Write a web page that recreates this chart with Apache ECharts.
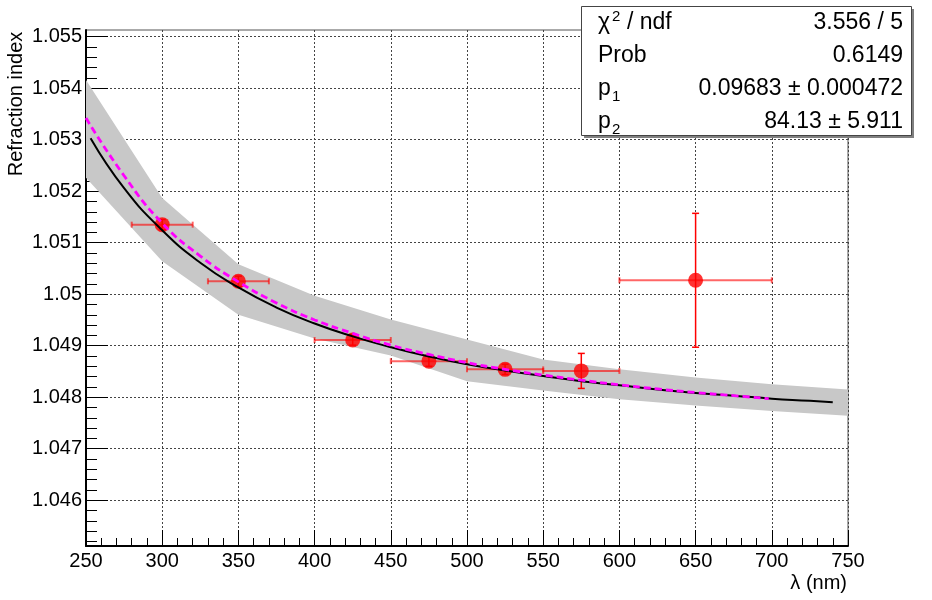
<!DOCTYPE html>
<html>
<head>
<meta charset="utf-8">
<script src="https://cdn.jsdelivr.net/npm/echarts@6.0.0/dist/echarts.min.js"></script>
<style>
html,body{margin:0;padding:0;background:#fff;}
#chart{width:932px;height:600px;}
</style>
</head>
<body>
<div id="chart"></div>
<script>
// ---- measured data points (wavelength in nm, refraction index) ----
const wavelength    = [300, 350, 425, 475, 525, 575, 650];
const wavelengthErr = [20, 20, 25, 25, 25, 25, 50];
const refIndex      = [1.05135, 1.05025, 1.04911, 1.04870, 1.04854, 1.04851, 1.05027];
const refIndexErr   = [0.0001, 0.0001, 0.0001, 0.0001, 0.0001, 0.00034, 0.0013];

// ---- fitted curve (black, solid) ----
const fitX = [253, 275, 300, 325, 350, 375, 400, 425, 450, 475, 500, 525, 550, 575, 600, 625, 650, 675, 700, 725, 740];
const fitY = [1.05303, 1.05206, 1.05124, 1.05061, 1.05013, 1.04974, 1.04943, 1.04918, 1.04897, 1.04879, 1.04864,
              1.04852, 1.04841, 1.04831, 1.04823, 1.04815, 1.04808, 1.04803, 1.04797, 1.04793, 1.04790];

// ---- second curve (magenta, dashed) ----
const altX = [250, 275, 300, 325, 350, 375, 400, 425, 450, 475, 500, 525, 550, 575, 600, 625, 650, 675, 698];
const altY = [1.05342, 1.05230, 1.05138, 1.05074, 1.05024, 1.04983, 1.04950, 1.04924, 1.04901, 1.04883, 1.04867,
              1.04854, 1.04843, 1.04833, 1.04824, 1.04816, 1.04809, 1.04803, 1.04797];

// ---- grey confidence band ----
const bandX     = [250, 300, 350, 400, 450, 500, 550, 600, 650, 700, 750];
const bandUpper = [1.05416, 1.05187, 1.05058, 1.04997, 1.04951, 1.04912, 1.04873, 1.04854, 1.04838, 1.04825, 1.04815];
const bandLower = [1.05226, 1.05064, 1.04960, 1.04914, 1.04881, 1.04831, 1.04813, 1.04796, 1.04784, 1.04773, 1.04764];

// ---- axes ----
const xRange = [250, 750];
const yRange = [1.04511, 1.05513];
const yMajorTicks = [1.046, 1.047, 1.048, 1.049, 1.05, 1.051, 1.052, 1.053, 1.054, 1.055];
const yMinorStep = 0.0002;

// ---- fit statistics box ----
const statLabels = ['χ', 'Prob', 'p', 'p'];
const statSubs   = ['2', '', '1', '2'];
const statRest   = ['/ ndf', '', '', ''];
const statValues = ['3.556 / 5', '0.6149', '0.09683 ± 0.000472', '84.13 ± 5.911'];

const FONT = '"Liberation Sans", Arial, Helvetica, sans-serif';

// minor y ticks (axis decoration only)
const yMinorTicks = [];
for (let k = 1; k * yMinorStep + 1.045 < yRange[1]; k++) {
  const v = +(1.045 + k * yMinorStep).toFixed(5);
  if (v > yRange[0] && Math.round(v * 10000) % 10 !== 0) yMinorTicks.push(v);
}

const pointData = wavelength.map((w, i) => [w, refIndex[i], wavelengthErr[i], refIndexErr[i]]);
const bandData = bandX.map((x, i) => [x, bandLower[i], bandUpper[i]]);

const chart = echarts.init(document.getElementById('chart'), null, {renderer: 'canvas'});

const rowY = [22.5, 55.5, 88.5, 121.5];
const statGraphics = [
  {type: 'rect', z: 100, shape: {x: 584, y: 9, width: 330, height: 129}, style: {fill: '#808080'}},
  {type: 'rect', z: 101, shape: {x: 581.5, y: 6.5, width: 330, height: 129}, style: {fill: '#fff', stroke: '#444', lineWidth: 1}}
];
statLabels.forEach((lab, i) => {
  statGraphics.push({type: 'text', z: 102, x: 598, y: rowY[i],
    style: {text: lab, font: '23px ' + FONT, fill: '#000', textAlign: 'left', textVerticalAlign: 'middle'}});
  if (statSubs[i]) {
    const sup = i === 0;
    statGraphics.push({type: 'text', z: 102, x: 612, y: sup ? rowY[i] - 6 : rowY[i] + 8,
      style: {text: statSubs[i], font: '15px ' + FONT, fill: '#000', textAlign: 'left', textVerticalAlign: 'middle'}});
  }
  if (statRest[i]) {
    statGraphics.push({type: 'text', z: 102, x: 627, y: rowY[i],
      style: {text: statRest[i], font: '23px ' + FONT, fill: '#000', textAlign: 'left', textVerticalAlign: 'middle'}});
  }
  statGraphics.push({type: 'text', z: 102, x: 903, y: rowY[i],
    style: {text: statValues[i], font: '23px ' + FONT, fill: '#000', textAlign: 'right', textVerticalAlign: 'middle'}});
});

const option = {
  animation: false,
  backgroundColor: '#fff',
  grid: {left: 86, right: 84, top: 30, bottom: 54, show: true, borderColor: '#555', borderWidth: 1, backgroundColor: 'transparent'},
  xAxis: {
    type: 'value', min: xRange[0], max: xRange[1], interval: 50,
    axisLine: {show: true, onZero: false, lineStyle: {color: '#000', width: 2}},
    axisTick: {show: true, inside: true, length: 16, lineStyle: {color: '#000', width: 1}},
    minorTick: {show: true, splitNumber: 5, length: 8, lineStyle: {color: '#000', width: 1}},
    axisLabel: {show: true, margin: 5, fontFamily: FONT, fontSize: 20, color: '#000'},
    splitLine: {show: true, lineStyle: {color: '#444', width: 1, type: [2, 2]}}
  },
  yAxis: [
    {
      type: 'value', min: yRange[0], max: yRange[1],
      axisLine: {show: true, onZero: false, lineStyle: {color: '#000', width: 2}},
      axisTick: {show: true, inside: true, length: 22, customValues: yMajorTicks, lineStyle: {color: '#000', width: 1}},
      axisLabel: {show: true, margin: 4, customValues: yMajorTicks, fontFamily: FONT, fontSize: 20, color: '#000',
        formatter: v => String(+(+v).toFixed(4))},
      splitLine: {show: true, lineStyle: {color: '#444', width: 1, type: [2, 2]}}
    },
    {
      type: 'value', min: yRange[0], max: yRange[1], position: 'left',
      axisLine: {show: false},
      axisTick: {show: true, inside: true, length: 11, customValues: yMinorTicks, lineStyle: {color: '#000', width: 1}},
      axisLabel: {show: false},
      splitLine: {show: false}
    }
  ],
  graphic: [
    {type: 'text', x: 16, y: 104, rotation: Math.PI / 2, z: 50,
      style: {text: 'Refraction index', font: '20px ' + FONT, fill: '#000', textAlign: 'center', textVerticalAlign: 'middle'}},
    {type: 'text', x: 847, y: 583, z: 50,
      style: {text: 'λ (nm)', font: '20px ' + FONT, fill: '#000', textAlign: 'right', textVerticalAlign: 'middle'}}
  ].concat(statGraphics),
  series: [
    {
      name: 'band', type: 'custom', z: 1, silent: true, data: bandData,
      encode: {x: 0, y: [1, 2]},
      renderItem: function (params, api) {
        if (params.dataIndex !== 0) return null;
        const pts = [];
        for (let i = 0; i < bandX.length; i++) pts.push(api.coord([bandX[i], bandUpper[i]]));
        for (let i = bandX.length - 1; i >= 0; i--) pts.push(api.coord([bandX[i], bandLower[i]]));
        return {type: 'polygon', shape: {points: pts}, style: {fill: '#c8c8c8', stroke: 'none'}};
      }
    },
    {
      name: 'errors', type: 'custom', z: 2, silent: true, data: pointData,
      encode: {x: 0, y: 1},
      renderItem: function (params, api) {
        const x = api.value(0), y = api.value(1), ex = api.value(2), ey = api.value(3);
        const pl = api.coord([x - ex, y]), pr = api.coord([x + ex, y]);
        const pt = api.coord([x, y + ey]), pb = api.coord([x, y - ey]);
        const hs = {stroke: 'rgba(255,0,0,0.6)', lineWidth: 2};
        const vs = {stroke: '#ff0000', lineWidth: 1.5};
        return {type: 'group', children: [
          {type: 'line', shape: {x1: pl[0], y1: pl[1], x2: pr[0], y2: pr[1]}, style: hs},
          {type: 'line', shape: {x1: pl[0], y1: pl[1] - 3, x2: pl[0], y2: pl[1] + 3}, style: hs},
          {type: 'line', shape: {x1: pr[0], y1: pr[1] - 3, x2: pr[0], y2: pr[1] + 3}, style: hs},
          {type: 'line', shape: {x1: pt[0], y1: pt[1], x2: pb[0], y2: pb[1]}, style: vs},
          {type: 'line', shape: {x1: pt[0] - 3.5, y1: pt[1], x2: pt[0] + 3.5, y2: pt[1]}, style: vs},
          {type: 'line', shape: {x1: pb[0] - 3.5, y1: pb[1], x2: pb[0] + 3.5, y2: pb[1]}, style: vs}
        ]};
      }
    },
    {
      name: 'points', type: 'scatter', z: 3, silent: true,
      data: wavelength.map((w, i) => [w, refIndex[i]]),
      symbol: 'circle', symbolSize: 15, itemStyle: {color: '#ff0000'}
    },
    {
      name: 'fit', type: 'line', z: 4, silent: true, smooth: true, symbol: 'none',
      data: fitX.map((x, i) => [x, fitY[i]]),
      lineStyle: {color: '#000', width: 2}
    },
    {
      name: 'fit2', type: 'line', z: 5, silent: true, smooth: true, symbol: 'none',
      data: altX.map((x, i) => [x, altY[i]]),
      lineStyle: {color: '#ff00ff', width: 2.8, type: [7, 4]}
    }
  ]
};
chart.setOption(option);
</script>
</body>
</html>
